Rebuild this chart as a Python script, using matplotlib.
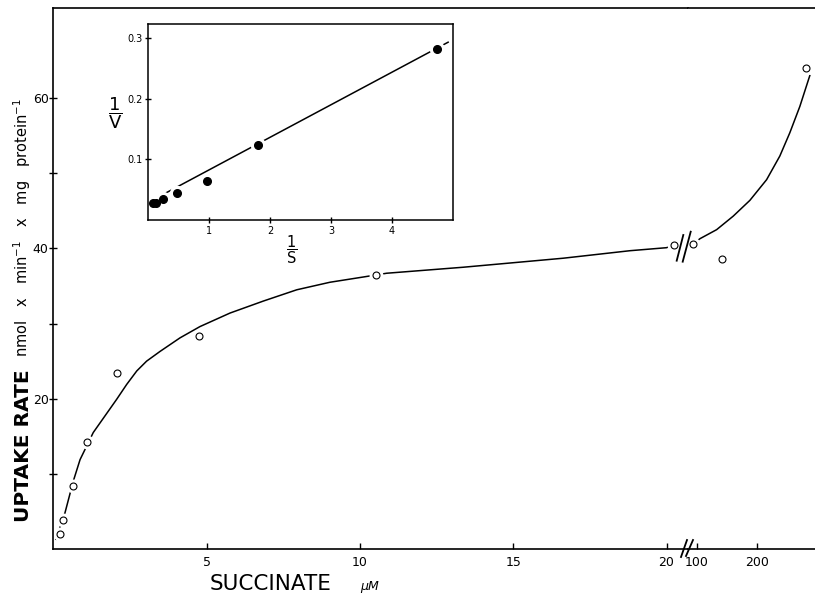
import numpy as np
import matplotlib.pyplot as plt
from matplotlib.lines import Line2D

plt.rcParams['font.family'] = ['DejaVu Sans']
plt.rcParams['mathtext.fontset'] = 'dejavusans'

# uptake rate vs succinate (low range, uM)
succ_low = [0.22, 0.30, 0.63, 1.10, 2.06, 4.76, 10.52, 20.25]
rate_low = [2.0, 3.8, 8.4, 14.2, 23.4, 28.4, 36.5, 40.5]
# high range, after the axis break
succ_high = [94, 142, 282]
rate_high = [40.6, 38.6, 64.0]

# hand drawn curve, traced
curve_x_low = [0.08, 0.38, 0.65, 0.87, 1.30, 2.06, 2.39, 2.72, 3.04, 3.48, 4.13, 4.78,
               5.76, 6.85, 7.94, 9.02, 10.11, 10.87, 13.37, 16.63, 18.81, 20.0, 20.25]
curve_y_low = [1.3, 4.85, 9.05, 11.9, 15.5, 19.9, 21.9, 23.7, 25.0, 26.3, 28.1, 29.6,
               31.4, 33.0, 34.5, 35.5, 36.2, 36.7, 37.5, 38.7, 39.7, 40.1, 40.5]
curve_x_high = [94, 105, 132.8, 160.5, 188.3, 216.2, 238.3, 255, 271.7, 288.3]
curve_y_high = [40.6, 41.3, 42.5, 44.3, 46.4, 49.15, 52.3, 55.4, 58.9, 63.0]

# inset: double reciprocal plot
inv_s = [0.09, 0.13, 0.25, 0.47, 0.96, 1.81, 4.74]
inv_v = [0.028, 0.028, 0.034, 0.045, 0.064, 0.123, 0.281]
fit_x = [0.04, 4.92]
fit_y = [0.031, 0.293]

W, H = 815, 594
fig = plt.figure(figsize=(8.15, 5.94), dpi=100)


def px(x0, y0, x1, y1):
    # pixel box (top-left origin) -> figure fraction rect
    return [x0 / W, 1 - y1 / H, (x1 - x0) / W, (y1 - y0) / H]


def slash(x0, y0, x1, y1):
    fig.add_artist(Line2D([x0 / W, x1 / W], [1 - y0 / H, 1 - y1 / H],
                          color='k', lw=1.3, transform=fig.transFigure))


ax = fig.add_axes(px(53.4, 8, 688, 549))
ax2 = fig.add_axes(px(688, 8, 815, 549))

for a, xs, ys, cx, cy in [(ax, succ_low, rate_low, curve_x_low, curve_y_low),
                          (ax2, succ_high, rate_high, curve_x_high, curve_y_high)]:
    a.plot(cx, cy, color='k', lw=1.1, zorder=2)
    a.plot(xs, ys, 'o', ms=10, mfc='white', mec='none', zorder=2.1)
    a.plot(xs, ys, 'o', ms=5, mfc='white', mec='k', mew=0.8, zorder=3)
    a.set_ylim(0, 72)
    a.spines['right'].set_visible(False)
    for s in a.spines.values():
        s.set_linewidth(1.2)
    a.tick_params(axis='x', direction='in', length=4, width=1, labelsize=9, pad=5)

ax.set_xlim(0, 20.7)
ax2.set_xlim(85, 297)
ax2.spines['left'].set_visible(False)

ax.set_xticks([5, 10, 15, 20])
ax2.set_xticks([100, 200])
ax.set_yticks([20, 40, 60])
ax.set_yticks([10, 30, 50], minor=True)
ax.tick_params(axis='y', which='both', direction='inout', length=6, width=1,
               labelsize=9, pad=0.5)
ax2.set_yticks([])

# axis break marks
slash(681, 557, 687, 540)
slash(686, 556, 693, 540)
slash(676.7, 260.7, 683.3, 235)
slash(682.7, 261.7, 690.7, 231.7)

# inset
axi = fig.add_axes(px(148, 24, 453, 220))
axi.plot(fit_x, fit_y, color='k', lw=1.1, zorder=2)
axi.plot(inv_s, inv_v, 'o', ms=10, color='white', zorder=2.1)
axi.plot(inv_s, inv_v, 'o', ms=5.5, color='k', zorder=3)
axi.set_xlim(0, 5.0)
axi.set_ylim(0, 0.323)
axi.set_xticks([1, 2, 3, 4])
axi.set_yticks([0.1, 0.2, 0.3])
axi.set_yticklabels(['0.1', '0.2', '0.3'])
axi.tick_params(direction='inout', length=4, width=1, labelsize=7, pad=2)
for s in axi.spines.values():
    s.set_linewidth(1.1)

fig.text(115 / W, 1 - 113 / H, r'$\dfrac{\mathrm{1}}{\mathrm{V}}$', fontsize=13,
         ha='center', va='center')
fig.text(292 / W, 1 - 250 / H, r'$\dfrac{\mathrm{1}}{\mathrm{S}}$', fontsize=10.5,
         ha='center', va='center')

# axis titles
fig.text(29 / W, 1 - 522 / H, 'UPTAKE RATE', fontsize=14.5, fontweight='bold',
         rotation=90, rotation_mode='anchor', ha='left', va='baseline')
fig.text(28 / W, 1 - 357 / H, r'nmol   x   min$^{-1}$   x   mg   protein$^{-1}$',
         fontsize=10.5, rotation=90, rotation_mode='anchor', ha='left', va='baseline')
fig.text(210 / W, 4 / H, 'SUCCINATE', fontsize=15.5, ha='left', va='baseline')
fig.text(360 / W, 4 / H, 'μM', fontsize=9, style='italic', ha='left', va='baseline')

fig.savefig('out.png', dpi=100)
